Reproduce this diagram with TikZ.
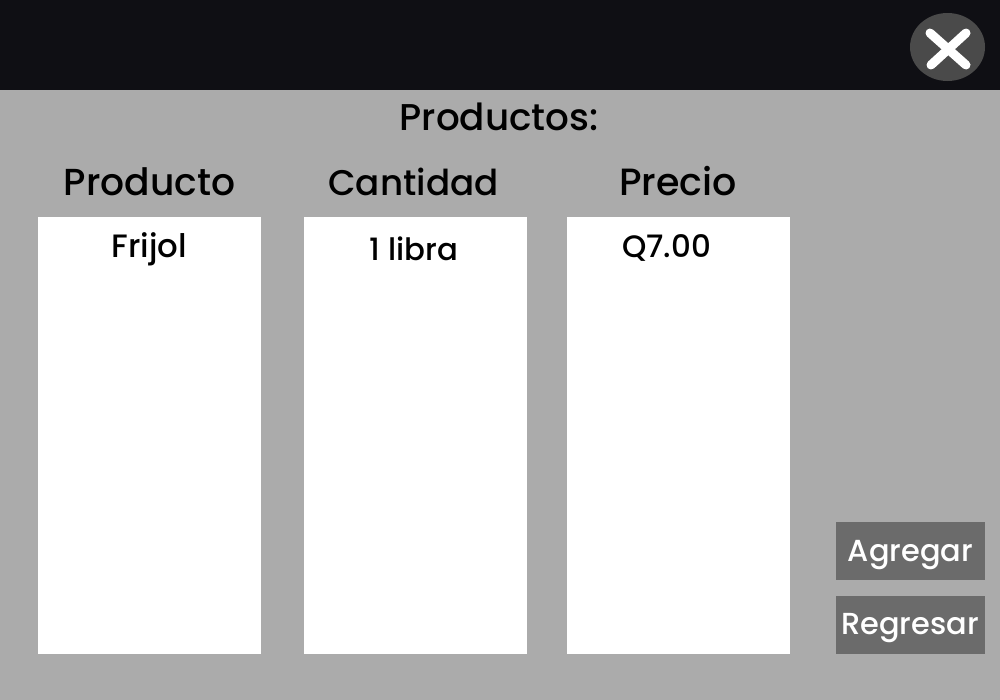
\documentclass[tikz,border=0pt]{standalone}
\usepackage{fontspec}
\setmainfont{Poppins}[UprightFont=* Medium]
\definecolor{bgc}{HTML}{ABABAB}
\definecolor{barc}{HTML}{0F0F14}
\definecolor{btnc}{HTML}{6B6B6B}
\definecolor{closec}{HTML}{4A4A4A}
\tikzset{
  panel/.style={fill=white,draw=none},
  lab/.style={font=\fontsize{#1}{12}\selectfont,text=black,inner sep=0pt,anchor=base},
  cell/.style={font=\fontsize{#1}{11}\selectfont,text=black,inner sep=0pt,anchor=base},
  btn/.style={font=\fontsize{8.65}{10}\selectfont,text=white,inner sep=0pt,anchor=base},
  xstroke/.style={white,line width=0.09cm,line cap=round},
}
\begin{document}
\begin{tikzpicture}[x=0.01cm,y=-0.01cm]
\useasboundingbox (0,0) rectangle (1000,700);
\fill[bgc] (0,0) rectangle (1000,700);
\fill[barc] (0,0) rectangle (1000,90);
\fill[closec] (947.5,47) ellipse [x radius=37.5,y radius=34];
\draw[xstroke] (930,33) -- (966,65);
\draw[xstroke] (966,33) -- (931,65);
\fill[panel] (38,217) rectangle (261,654);
\fill[panel] (304,217) rectangle (527,654);
\fill[panel] (567,217) rectangle (790,654);
\fill[btnc] (836,522) rectangle (985,580);
\fill[btnc] (836,596) rectangle (985,654);
\node[lab=10.6] (title) at (499,130) {Productos:};
\node[lab=10.7] (h1) at (149.5,195) {Producto};
\node[lab=10.15] (h2) at (413.5,195) {Cantidad};
\node[lab=10.8] (h3) at (678,195) {Precio};
\node[cell=9.2] (c1) at (149.5,257) {Frijol};
\node[cell=8.75] (c2) at (414,260) {1 libra};
\node[cell=8.8] (c3) at (666.5,257) {Q7.00};
\node[btn] (b1) at (910.5,561) {Agregar};
\node[btn] (b2) at (910,634) {Regresar};
\end{tikzpicture}
\end{document}
